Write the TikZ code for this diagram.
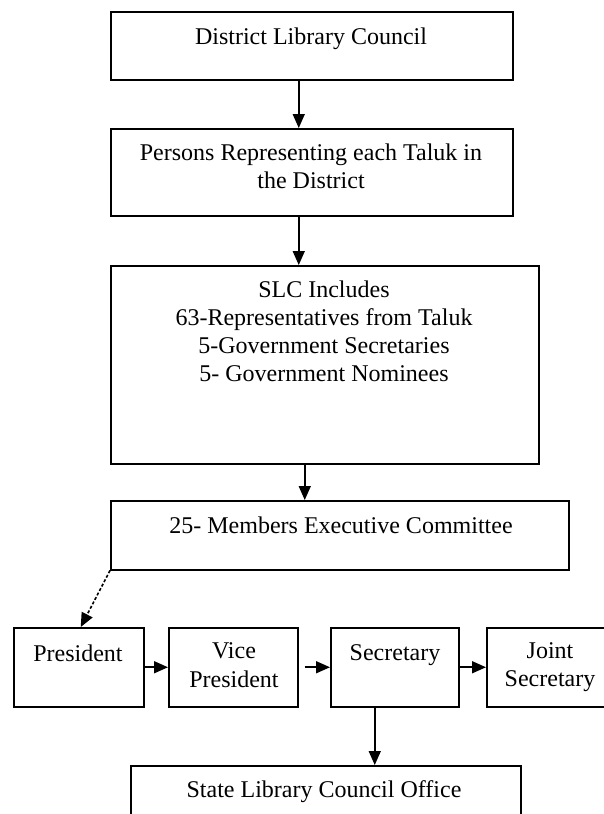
\documentclass[tikz,border=0pt]{standalone}
\usepackage{fontspec}
\setmainfont{Liberation Serif}
\usetikzlibrary{arrows.meta}

\tikzset{
  box/.style={draw, rectangle, line width=1.5pt, inner sep=0pt, anchor=north west},
  lbl/.style={anchor=north, inner sep=0pt, align=center,
    font=\fontsize{24}{28}\selectfont},
  arr/.style={line width=1.6pt, -{Triangle[length=14pt,width=12pt]}},
  darr/.style={arr, densely dashed, dash pattern=on 3pt off 2pt}
}

\begin{document}
\begin{tikzpicture}[x=1pt, y=-1pt]
  \useasboundingbox (0,0) rectangle (604,814);
  \clip (0,0) rectangle (604,814);
  \fill[white] (0,0) rectangle (604,814);

  % frames of the organisation chart
  \node[box, minimum width=402pt, minimum height=68pt]  (dlc)   at (110,11)  {};
  \node[box, minimum width=402pt, minimum height=87pt]  (reps)  at (110,128) {};
  \node[box, minimum width=428pt, minimum height=198pt] (slc)   at (110,265) {};
  \node[box, minimum width=458pt, minimum height=69pt]  (exec)  at (110,500) {};
  \node[box, minimum width=130pt, minimum height=79pt]  (pres)  at (13,627)  {};
  \node[box, minimum width=129pt, minimum height=79pt]  (vp)    at (168,627) {};
  \node[box, minimum width=128pt, minimum height=79pt]  (sec)   at (330,627) {};
  \node[box, minimum width=128pt, minimum height=79pt]  (jsec)  at (486,627) {};
  \node[box, minimum width=390pt, minimum height=80pt]  (office) at (130,765) {};

  % captions, set at the top of each frame
  \node[lbl] (tdlc)  at (311,27.5)  {District Library Council};
  \node[lbl] (treps) at (311,143.5) {Persons Representing each Taluk in\\the District};
  \node[lbl] (tslc)  at (324,280.5) {SLC Includes\\63-Representatives from Taluk\\5-Government Secretaries\\5- Government Nominees};
  \node[lbl] (texec) at (341,516.5) {25- Members Executive Committee};
  \node[lbl] (tpres) at (78,644.5)  {President};
  \node[lbl, font=\fontsize{24}{29}\selectfont] (tvp) at (234,642.5) {Vice\\President};
  \node[lbl] (tsec)  at (395,644.5) {Secretary};
  \node[lbl, font=\fontsize{24}{28}\selectfont] (tjsec) at (550,642.5) {Joint\\Secretary};
  \node[lbl] (toff)  at (324,780.5) {State Library Council Office};

  % connectors
  \draw[arr] ([xshift=-13pt]dlc.south)  -- ([xshift=-13pt]reps.north);
  \draw[arr] ([xshift=-13pt]reps.south) -- ([xshift=-26pt]slc.north);
  \draw[arr] ([xshift=-20pt]slc.south)  -- ([xshift=-35pt]exec.north);
  \draw[darr] (exec.south west) -- ([xshift=2pt]pres.north);
  \draw[arr] (pres.east) -- (vp.west);
  \draw[arr] ([xshift=6pt]vp.east) -- (sec.west);
  \draw[arr] (sec.east) -- (jsec.west);
  \draw[arr] ([xshift=-20pt]sec.south) -- ([xshift=49pt]office.north);
\end{tikzpicture}
\end{document}
